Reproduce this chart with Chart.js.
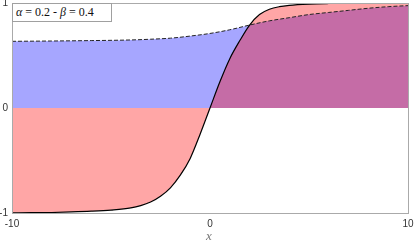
<!DOCTYPE html>
<html lang="en">
<head>
  <meta charset="UTF-8">
  <title>alpha beta curves</title>
  <script src="https://cdn.jsdelivr.net/npm/chart.js"></script>
  <style>
    body {
      margin: 0;
      background: #fff;
    }
    .wrap {
      position: relative;
      width: 414px;
      height: 242px;
    }
    .note {
      position: absolute;
      left: 12px;
      top: 3px;
      width: 95px;
      height: 17px;
      border: 1px solid #a0a0a0;
      background: #fff;
      font-family: 'Liberation Serif', serif;
      font-size: 12px;
      line-height: 17px;
      padding-left: 3px;
      color: #111;
      white-space: nowrap;
    }
    .note i { font-style: italic; }
    .xtitle {
      position: absolute;
      left: 206px;
      top: 228px;
      font-family: 'Liberation Serif', serif;
      font-style: italic;
      font-size: 13px;
      color: #777;
    }
  </style>
</head>
<body>

<div class="wrap">
  <canvas id="chart" width="414" height="242"></canvas>
  <div class="note"><i>α</i> = 0.2 - <i>β</i> = 0.4</div>
  <div class="xtitle">x</div>
</div>

<script>
// solid curve (red fill to zero)
const solidX = [-10, -9, -8, -7, -6, -5, -4, -3.5, -3, -2.5, -2, -1.5, -1, -0.5, 0, 0.5, 1, 1.5, 2, 2.5, 3, 3.5, 4, 5, 6, 7, 8, 9, 10];
const solidY = [-0.998, -0.997, -0.995, -0.99, -0.983, -0.972, -0.952, -0.93, -0.895, -0.84, -0.76, -0.64, -0.48, -0.25, 0, 0.25, 0.47, 0.64, 0.79, 0.89, 0.94, 0.965, 0.978, 0.99, 0.995, 0.997, 0.998, 0.999, 1.0];

// dashed curve (blue fill to zero)
const dashX = [-10, -8, -6, -4, -3, -2, -1, 0, 1, 2, 3, 4, 5, 6, 7, 8, 9, 10];
const dashY = [0.635, 0.638, 0.642, 0.648, 0.655, 0.665, 0.685, 0.71, 0.745, 0.79, 0.83, 0.86, 0.89, 0.91, 0.93, 0.95, 0.965, 0.975];

const xTicks = [-10, 0, 10];
const yTicks = [-1, 0, 1];

const toPts = (xs, ys) => xs.map((x, i) => ({x: x, y: ys[i]}));

// grey frame round the plot area
const frame = {
  id: 'frame',
  afterDraw(chart) {
    const a = chart.chartArea;
    const ctx = chart.ctx;
    ctx.save();
    ctx.strokeStyle = '#aaaaaa';
    ctx.lineWidth = 1;
    ctx.strokeRect(Math.round(a.left) + 0.5, Math.round(a.top) + 0.5, Math.round(a.right - a.left), Math.round(a.bottom - a.top));
    ctx.restore();
  }
};

new Chart(document.getElementById('chart'), {
  type: 'line',
  data: {
    datasets: [{
      data: toPts(solidX, solidY),
      borderColor: '#000',
      borderWidth: 1.2,
      backgroundColor: 'rgba(255, 0, 0, 0.35)',
      fill: 'origin',
      pointRadius: 0,
      cubicInterpolationMode: 'monotone'
    }, {
      data: toPts(dashX, dashY),
      borderColor: '#222',
      borderWidth: 1,
      borderDash: [4, 2],
      backgroundColor: 'rgba(0, 0, 255, 0.35)',
      fill: 'origin',
      pointRadius: 0,
      cubicInterpolationMode: 'monotone'
    }]
  },
  options: {
    responsive: false,
    animation: false,
    layout: { padding: { top: 3, right: 6, left: 0, bottom: 0 } },
    plugins: {
      legend: { display: false },
      tooltip: { enabled: false },
      filler: { drawTime: 'beforeDatasetsDraw' }
    },
    scales: {
      x: {
        type: 'linear',
        min: -10,
        max: 10,
        grid: { display: false, drawTicks: false, tickLength: 0 },
        border: { display: false },
        afterBuildTicks: s => { s.ticks = xTicks.map(v => ({value: v})); },
        ticks: { color: '#333', font: { size: 10, family: 'Liberation Sans' }, padding: 5, maxRotation: 0 },
        afterFit: s => { s.height = 29; s.paddingLeft = 0; s.paddingRight = 0; }
      },
      y: {
        min: -1,
        max: 1,
        grid: { display: false, drawTicks: false, tickLength: 0 },
        border: { display: false },
        afterBuildTicks: s => { s.ticks = yTicks.map(v => ({value: v})); },
        ticks: { color: '#333', font: { size: 10, family: 'Liberation Sans' }, padding: 4 },
        afterFit: s => { s.width = 12; s.paddingTop = 0; s.paddingBottom = 0; }
      }
    }
  },
  plugins: [frame]
});
</script>

</body>
</html>
